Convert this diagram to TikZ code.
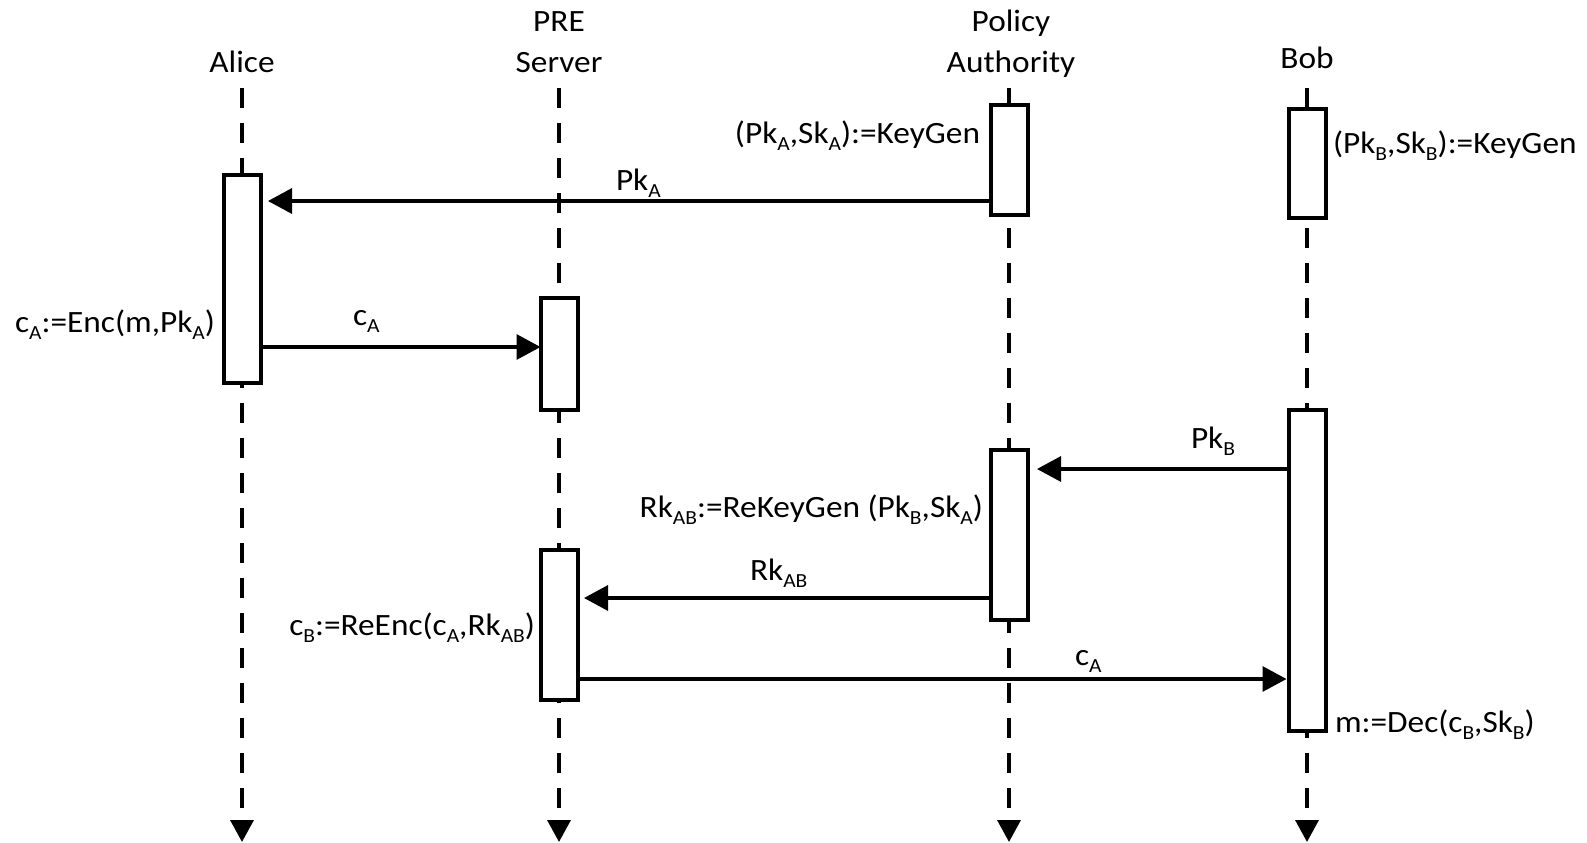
\documentclass[tikz,border=0pt]{standalone}
\usepackage{fontspec}
\setmainfont{Carlito}[FakeStretch=1.075]
\usetikzlibrary{arrows.meta}
\newcommand\sbs[1]{\raisebox{-7pt}{\fontsize{20}{20}\selectfont #1}}
\begin{document}
\begin{tikzpicture}[x=1pt,y=-1pt,
  every node/.style={font=\fontsize{31}{40}\selectfont, inner sep=0pt, outer sep=0pt},
  actbox/.style={draw=black, line width=4pt, fill=white, minimum width=37pt, inner sep=0pt},
  life/.style={line width=3.5pt, dash pattern=on 20pt off 15pt, -{Triangle[length=22pt,width=23pt]}},
  msg/.style={line width=3.3pt, -{Triangle[length=24pt,width=25pt]}},
  head/.style={anchor=base},
  lbl/.style={anchor=base west},
  lblr/.style={anchor=base east}]
\useasboundingbox (0,0) rectangle (1587,843);

% headers
\node[head] (alice) at (242,72) {Alice};
\node[head] (preA) at (559,32) {PRE};
\node[head] (preB) at (559,72) {Server};
\node[head] (polA) at (1011,32) {Policy};
\node[head] (polB) at (1011,72) {Authority};
\node[head] (bob) at (1307,68) {Bob};

% lifelines
\coordinate (alT) at (242,88);  \coordinate (alE) at (242,842);
\coordinate (prT) at (559,88);  \coordinate (prE) at (559,842);
\coordinate (poT) at (1009,88); \coordinate (poE) at (1009,842);
\coordinate (boT) at (1307,88); \coordinate (boE) at (1307,842);
\draw[life] (alT) -- (alE);
\draw[life] (prT) -- (prE);
\draw[life] (poT) -- (poE);
\draw[life] (boT) -- (boE);

% activation boxes
\node[actbox, minimum height=208pt] (al1) at (242,279) {};
\node[actbox, minimum height=112pt] (pr1) at (559,354) {};
\node[actbox, minimum height=150pt] (pr2) at (559,625) {};
\node[actbox, minimum height=110pt] (po1) at (1009,160) {};
\node[actbox, minimum height=170pt] (po2) at (1009,535) {};
\node[actbox, minimum height=109pt] (bo1) at (1307,163.5) {};
\node[actbox, minimum height=321pt] (bo2) at (1307,570.5) {};

% messages
\draw[msg, shorten >=7.5pt] (po1.west |- 0,201) -- (al1.east |- 0,201);
\draw[msg] (al1.east |- 0,347) -- (pr1.west |- 0,347);
\draw[msg, shorten >=9.5pt] (bo2.west |- 0,469) -- (po2.east |- 0,469);
\draw[msg, shorten >=6.5pt] (po2.west |- 0,598) -- (pr2.east |- 0,598);
\draw[msg, shorten >=2pt] (pr2.east |- 0,679) -- (bo2.west |- 0,679);

% labels
\node[lblr] (kgA) at (980,143) {(Pk\sbs{A},Sk\sbs{A}):=KeyGen};
\node[lbl] (mPkA) at (616,190) {Pk\sbs{A}};
\node[lbl] (kgB) at (1333,153) {(Pk\sbs{B},Sk\sbs{B}):=KeyGen};
\node[lblr] (enc) at (215,332) {c\sbs{A}:=Enc(m,Pk\sbs{A})};
\node[lbl] (mcA) at (353,325) {c\sbs{A}};
\node[lbl] (mPkB) at (1191,448) {Pk\sbs{B}};
\node[lblr] (rkg) at (983,517) {Rk\sbs{AB}:=ReKeyGen (Pk\sbs{B},Sk\sbs{A})};
\node[lbl] (mRk) at (750,580) {Rk\sbs{AB}};
\node[lblr] (renc) at (535,635) {c\sbs{B}:=ReEnc(c\sbs{A},Rk\sbs{AB})};
\node[lbl] (mcA2) at (1075,665) {c\sbs{A}};
\node[lbl] (dec) at (1335,732) {m:=Dec(c\sbs{B},Sk\sbs{B})};
\end{tikzpicture}
\end{document}
